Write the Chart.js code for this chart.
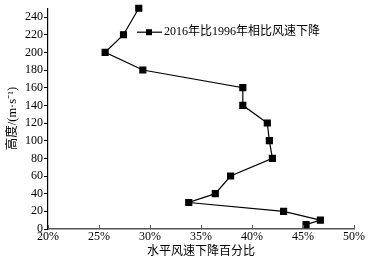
<!DOCTYPE html>
<html>
<head>
<meta charset="utf-8">
<script src="https://cdn.jsdelivr.net/npm/chart.js@4"></script>
<style>
  body { margin: 0; background: #fff; }
  #wrap { width: 368px; height: 261px; }
</style>
</head>
<body>
<div id="wrap"><canvas id="wind"></canvas></div>
<script>
const heights = [250, 220, 200, 180, 160, 140, 120, 100, 80, 60, 40, 30, 20, 10, 5]
const dropPct = [28.9, 27.4, 25.6, 29.3, 39.1, 39.1, 41.5, 41.7, 42.0, 37.9, 36.4, 33.8, 43.1, 46.7, 45.3]
const xTicks = [20, 25, 30, 35, 40, 45, 50]
const seriesName = '2016年比1996年相比风速下降'

const fontFam = "'Liberation Serif', 'Times New Roman', 'Noto Sans CJK SC', serif"

// inward tick marks on the x axis + legend inside the plot
const extras = {
  id: 'extras',
  afterDraw(chart) {
    const ctx = chart.ctx
    const xs = chart.scales.x
    const area = chart.chartArea
    ctx.save()
    ctx.strokeStyle = '#555'
    ctx.lineWidth = 1
    xTicks.forEach(v => {
      const px = Math.round(xs.getPixelForValue(v)) + 0.5
      ctx.beginPath()
      ctx.moveTo(px, area.bottom)
      ctx.lineTo(px, area.bottom - 4)
      ctx.stroke()
    })
    // legend
    const lx = area.left + 89, ly = area.top + 24
    ctx.strokeStyle = '#000'
    ctx.lineWidth = 1.2
    ctx.beginPath()
    ctx.moveTo(lx, ly)
    ctx.lineTo(lx + 25, ly)
    ctx.stroke()
    ctx.fillStyle = '#000'
    ctx.fillRect(lx + 9, ly - 3, 6, 6)
    ctx.font = '12px ' + fontFam
    ctx.textBaseline = 'middle'
    ctx.fillText(seriesName, lx + 27, ly)
    ctx.restore()
  }
}

let wind = new Chart(document.querySelector('#wind'), {
  type: 'scatter',
  plugins: [extras],
  data: {
    datasets: [{
      label: seriesName,
      data: heights.map((h, i) => ({ x: dropPct[i], y: h })),
      showLine: true,
      clip: false,
      borderColor: '#000',
      borderWidth: 1.2,
      backgroundColor: '#000',
      pointStyle: 'rect',
      pointRadius: 4.2,
      pointHoverRadius: 4.2
    }]
  },
  options: {
    responsive: true,
    maintainAspectRatio: false,
    animation: false,
    layout: { padding: { top: 5, right: 14, left: 0, bottom: 0 } },
    scales: {
      x: {
        type: 'linear',
        min: 20,
        max: 50,
        afterFit: s => { s.height = 32 },
        grid: { display: false, drawTicks: false },
        border: { color: '#555', width: 1.5 },
        ticks: {
          stepSize: 5,
          padding: 1,
          color: '#000',
          font: { family: fontFam, size: 12 },
          callback: v => v + '%'
        },
        title: {
          display: true,
          text: '水平风速下降百分比',
          color: '#000',
          font: { family: fontFam, size: 12 },
          padding: { top: 0, bottom: 2 }
        }
      },
      y: {
        min: 0,
        max: 250,
        afterFit: s => { s.width = 48 },
        afterBuildTicks: s => {
          s.ticks = [0, 20, 40, 60, 80, 100, 120, 140, 160, 180, 200, 220, 240].map(v => ({ value: v }))
        },
        grid: { drawOnChartArea: false, drawTicks: true, tickLength: 4, color: '#000' },
        border: { color: '#000', width: 1.2 },
        ticks: {
          padding: 1,
          color: '#000',
          font: { family: fontFam, size: 12 }
        },
        title: {
          display: true,
          text: '高度/(m·s⁻¹)',
          color: '#000',
          font: { family: fontFam, size: 12.5 },
          padding: { top: 5, bottom: 0 }
        }
      }
    },
    plugins: {
      legend: { display: false },
      tooltip: { enabled: false }
    }
  }
})
</script>
</body>
</html>
